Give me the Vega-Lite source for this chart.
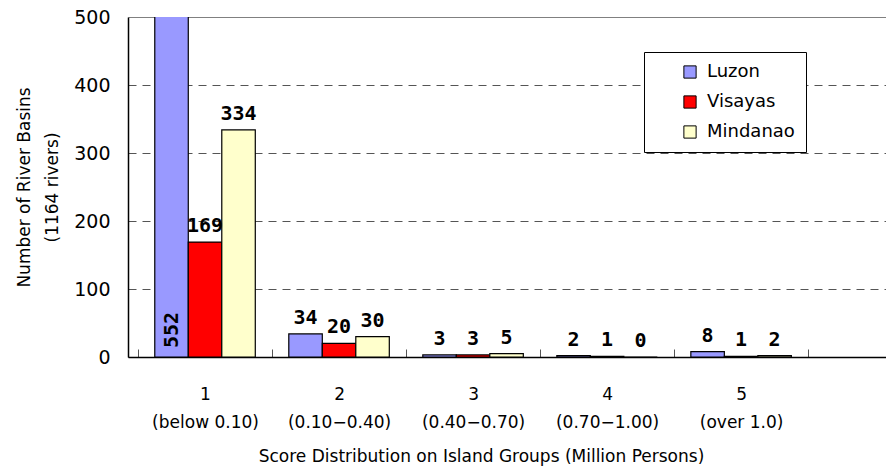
{
  "$schema": "https://vega.github.io/schema/vega-lite/v6.json",
  "autosize": "none",
  "width": 758,
  "height": 340,
  "padding": {"left": 128, "top": 17, "right": 0, "bottom": 118},
  "background": "white",
  "config": {
    "view": {"stroke": null},
    "font": "DejaVu Sans"
  },
  "data": {
    "values": [
      {"cat": "1|(below 0.10)", "series": "Luzon", "value": 552},
      {"cat": "1|(below 0.10)", "series": "Visayas", "value": 169},
      {"cat": "1|(below 0.10)", "series": "Mindanao", "value": 334},
      {"cat": "2|(0.10−0.40)", "series": "Luzon", "value": 34},
      {"cat": "2|(0.10−0.40)", "series": "Visayas", "value": 20},
      {"cat": "2|(0.10−0.40)", "series": "Mindanao", "value": 30},
      {"cat": "3|(0.40−0.70)", "series": "Luzon", "value": 3},
      {"cat": "3|(0.40−0.70)", "series": "Visayas", "value": 3},
      {"cat": "3|(0.40−0.70)", "series": "Mindanao", "value": 5},
      {"cat": "4|(0.70−1.00)", "series": "Luzon", "value": 2},
      {"cat": "4|(0.70−1.00)", "series": "Visayas", "value": 1},
      {"cat": "4|(0.70−1.00)", "series": "Mindanao", "value": 0},
      {"cat": "5|(over 1.0)", "series": "Luzon", "value": 8},
      {"cat": "5|(over 1.0)", "series": "Visayas", "value": 1},
      {"cat": "5|(over 1.0)", "series": "Mindanao", "value": 2}
    ]
  },
  "encoding": {
    "x": {
      "field": "cat",
      "type": "nominal",
      "sort": null,
      "scale": {"paddingInner": 0, "paddingOuter": 0.328, "align": 0.114},
      "axis": {
        "title": "Score Distribution on Island Groups (Million Persons)",
        "titleFont": "DejaVu Sans",
        "titleFontSize": 17,
        "titleFontWeight": "normal",
        "titleColor": "black",
        "titlePadding": 18,
        "titleX": 353,
        "labelExpr": "datum.value ? split(datum.value, '|') : ''",
        "labelAngle": 0,
        "labelFontSize": 17,
        "labelColor": "black",
        "labelLineHeight": 28,
        "labelPadding": 37,
        "labelBaseline": "top",
        "tickBand": "extent",
        "tickSize": -8,
        "tickColor": "#555555",
        "domainColor": "black",
        "domainWidth": 1.5
      }
    },
    "xOffset": {
      "field": "series",
      "type": "nominal",
      "scale": {"domain": ["Luzon", "Visayas", "Mindanao"], "paddingOuter": 0.5, "paddingInner": 0}
    },
    "y": {
      "field": "value",
      "type": "quantitative",
      "scale": {"domain": [0, 500]},
      "axis": {
        "title": ["Number of River Basins", "(1164 rivers)"],
        "titleFont": "DejaVu Sans",
        "titleFontSize": 17,
        "titleFontWeight": "normal",
        "titleColor": "black",
        "titleLineHeight": 28,
        "titlePadding": 12,
        "values": [0, 100, 200, 300, 400, 500],
        "labelFontSize": 19,
        "labelColor": "black",
        "labelPadding": 18,
        "ticks": false,
        "domainColor": "black",
        "domainWidth": 1.5,
        "grid": true,
        "gridColor": {"condition": {"test": "datum.value === 500", "value": "#808080"}, "value": "#555555"},
        "gridDash": {"condition": {"test": "datum.value === 500", "value": []}, "value": [8, 6]},
        "gridWidth": 1
      }
    }
  },
  "layer": [
    {
      "mark": {"type": "bar", "clip": true, "stroke": "black", "strokeWidth": 1.2},
      "encoding": {
        "color": {
          "field": "series",
          "type": "nominal",
          "scale": {"domain": ["Luzon", "Visayas", "Mindanao"], "range": ["#9999FF", "#FF0000", "#FFFFCC"]},
          "legend": {
            "title": null,
            "orient": "none",
            "legendX": 516,
            "legendY": 35,
            "fillColor": "white",
            "strokeColor": "black",
            "padding": 11,
            "symbolType": "square",
            "symbolSize": 150,
            "symbolStrokeColor": "black",
            "symbolStrokeWidth": 1,
            "symbolOffset": 26,
            "labelFontSize": 18,
            "labelColor": "black",
            "labelOffset": 8,
            "rowPadding": 12
          }
        }
      }
    },
    {
      "transform": [{"filter": "datum.value <= 500"}],
      "mark": {"type": "text", "baseline": "alphabetic", "dy": -10, "font": "DejaVu Sans Mono", "fontWeight": "bold", "fontSize": 20, "color": "black"},
      "encoding": {"text": {"field": "value", "type": "quantitative"}}
    },
    {
      "transform": [{"filter": "datum.value > 500"}],
      "mark": {"type": "text", "angle": 270, "align": "left", "baseline": "middle", "dx": 9, "font": "DejaVu Sans Mono", "fontWeight": "bold", "fontSize": 20, "color": "black"},
      "encoding": {"text": {"field": "value", "type": "quantitative"}, "y": {"datum": 0}}
    }
  ]
}
